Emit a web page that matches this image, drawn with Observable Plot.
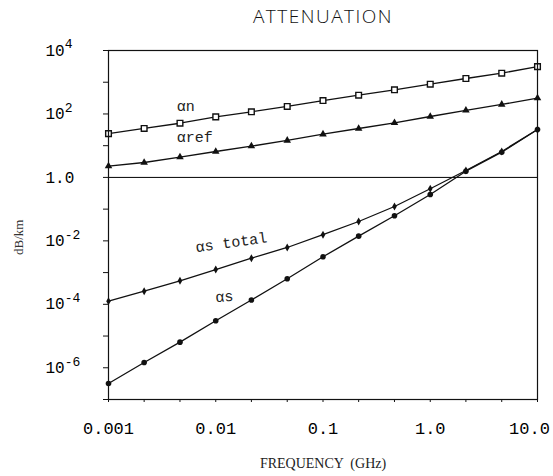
<!DOCTYPE html>
<html><head><meta charset="utf-8">
<script src="https://cdn.jsdelivr.net/npm/d3@7"></script>
<script src="https://cdn.jsdelivr.net/npm/@observablehq/plot@0.6"></script>
<style>body{margin:0;background:#fff} svg{display:block}</style>
</head><body><div id="chart"></div>
<script>
// ---- data ----
const freqs = [0.001, 0.00215, 0.00464, 0.01, 0.0215, 0.0464, 0.1, 0.215, 0.464, 1, 2.15, 4.64, 10];
const alphaN = [24, 35, 51, 81, 117, 172, 265, 390, 577, 867, 1310, 1930, 3100];
const alphaRef = [2.26, 2.95, 4.34, 6.56, 9.64, 14.6, 23.0, 34.8, 52.6, 83.2, 129, 199, 314];
const alphaSTotal = [1.26e-4, 2.59e-4, 5.52e-4, 1.25e-3, 2.84e-3, 6.18e-3, 0.0156, 0.0408, 0.121, 0.438, 1.65, 6.56, 32.4];
const alphaS = [3.2e-7, 1.47e-6, 6.41e-6, 3.03e-5, 1.37e-4, 6.38e-4, 3.15e-3, 0.0141, 0.0618, 0.290, 1.57, 6.24, 32.4];
const seriesNames = ["αn", "αref", "αs total", "αs"];

const xLabelTicks = [0.001, 0.01, 0.1, 1, 10];
const xLabelText = ["0.001", "0.01", "0.1", "1.0", "10.0"];
const yLabelTicks = [1e4, 1e2, 1, 1e-2, 1e-4, 1e-6];
const yLabelText = ["10^4", "10^2", "1.0", "10^-2", "10^-4", "10^-6"];
const yDecadeTicks = [1e-7, 1e-6, 1e-5, 1e-4, 1e-3, 1e-2, 1e-1, 1, 1e1, 1e2, 1e3, 1e4];

const titleText = "ATTENUATION";
const xTitle = "FREQUENCY  (GHz)";
const yTitle = "dB/km";

// series label anchors (data coordinates)
const labelFreq = [0.00433, 0.00433, 0.0065, 0.0099];
const labelValue = [172, 18.1, 6.2e-3, 1.64e-4];

// ---- build table ----
const seriesValues = [alphaN, alphaRef, alphaSTotal, alphaS];
const rows = [];
seriesValues.forEach((vals, si) => freqs.forEach((f, i) => rows.push({f, v: vals[i], s: seriesNames[si]})));
const bySeries = name => rows.filter(d => d.s === name);
const labels = seriesNames.map((t, i) => ({t, f: labelFreq[i], v: labelValue[i]}));

const mono = "Liberation Mono, Courier New, monospace";
const serif = "Liberation Serif, Times New Roman, serif";

const chart = Plot.plot({
  width: 553,
  height: 476,
  marginLeft: 108,
  marginRight: 16,
  marginTop: 50,
  marginBottom: 77,
  style: {background: "white", color: "black", fontFamily: mono},
  x: {type: "log", domain: [0.001, 10], axis: null},
  y: {type: "log", domain: [1e-7, 1e4], axis: null},
  marks: [
    Plot.ruleY([1], {stroke: "black", strokeWidth: 1}),
    Plot.line(rows, {x: "f", y: "v", z: "s", stroke: "#111", strokeWidth: 1.3}),
    Plot.dot(bySeries("αn"), {x: "f", y: "v", symbol: "square", r: 3.2, fill: "white", stroke: "#111", strokeWidth: 1.4}),
    Plot.dot(bySeries("αref"), {x: "f", y: "v", symbol: "triangle", r: 2.8, fill: "#111"}),
    Plot.dot(bySeries("αs total"), {x: "f", y: "v", symbol: "diamond", r: 2.4, fill: "#111"}),
    Plot.dot(bySeries("αs"), {x: "f", y: "v", symbol: "circle", r: 2.8, fill: "#111"}),
    Plot.frame({stroke: "#111", strokeWidth: 1.2}),
    // decade ticks on the left
    Plot.axisY({ticks: yDecadeTicks, tickSize: 5, tickFormat: () => "", stroke: "#111", label: null}),
    // y tick labels
    Plot.axisY({ticks: yLabelTicks, tickSize: 0, tickPadding: 63, textAnchor: "start", label: null,
      tickFormat: d => yLabelText[yLabelTicks.indexOf(d)], fontSize: 16, fontFamily: mono}),
    // x ticks at every point
    Plot.axisX({ticks: freqs, tickSize: 3, tickFormat: () => "", stroke: "#111", label: null}),
    Plot.axisX({ticks: xLabelTicks, tickSize: 0, tickPadding: 22, label: null,
      tickFormat: d => xLabelText[xLabelTicks.indexOf(d)], fontSize: 17, fontFamily: mono}),
    // series labels
    Plot.text(labels, {x: "f", y: "v", text: "t", textAnchor: "start", fontSize: 15, fontFamily: mono,
      rotate: d => (d.t === "αs total" ? -8 : d.t === "αs" ? -5 : 0), fill: "#222"}),
    // titles
    Plot.text([titleText], {frameAnchor: "top", lineAnchor: "middle", dy: -34, text: d => d, fontSize: 19,
      fontFamily: "Open Sans, Lato, Liberation Sans, sans-serif", fontWeight: 300, fill: "#111"}),
    Plot.text([xTitle], {frameAnchor: "bottom", lineAnchor: "middle", dy: 64, text: d => d, fontSize: 14,
      fontFamily: serif, fill: "#222"}),
    Plot.text([yTitle], {frameAnchor: "left", lineAnchor: "middle", dx: -90, dy: 30, rotate: -90, text: d => d, fontSize: 13,
      fontFamily: serif, fill: "#333"})
  ]
});

// superscripts for the y tick labels, title spacing, last x label nudge
chart.querySelectorAll("text").forEach(t => {
  const s = t.textContent;
  const k = s.indexOf("^");
  if (k >= 0) {
    t.textContent = s.slice(0, k);
    const sup = document.createElementNS("http://www.w3.org/2000/svg", "tspan");
    sup.setAttribute("dy", "-0.55em");
    sup.setAttribute("font-size", "13");
    sup.textContent = s.slice(k + 1);
    t.appendChild(sup);
  }
  if (s === titleText) t.style.letterSpacing = "1.5px";
  if (s === "10.0") t.setAttribute("dx", "-8");
});

document.getElementById("chart").appendChild(chart);
</script>
</body></html>
